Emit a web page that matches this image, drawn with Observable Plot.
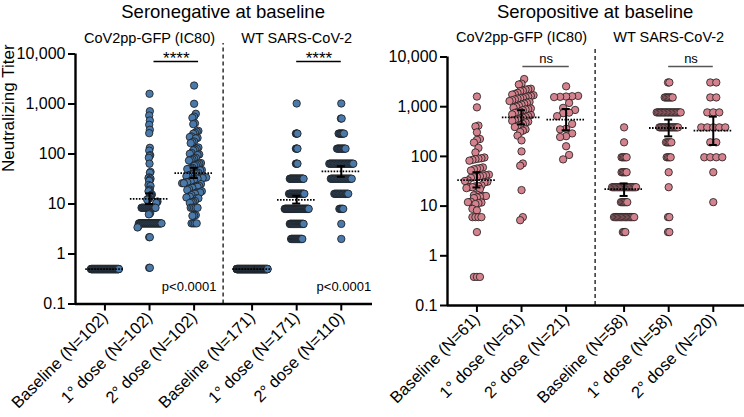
<!DOCTYPE html>
<html>
<head>
<meta charset="utf-8">
<script src="https://cdn.jsdelivr.net/npm/d3@7"></script>
<script src="https://cdn.jsdelivr.net/npm/@observablehq/plot@0.6"></script>
<style>
  html, body { margin: 0; padding: 0; background: #fff; }
  #wrap { display: flex; width: 744px; height: 417px; }
  #wrap svg { display: block; }
</style>
</head>
<body>
<div id="wrap"></div>
<script>
// ---------------- DATA ----------------
const groupPos = [0, 1, 2, 3.3, 4.3, 5.3];
const yTicks = [0.1, 1, 10, 100, 1000, 10000];

const negTitle = "Seronegative at baseline";
const posTitle = "Seropositive at baseline";
const assayTitles = ["CoV2pp-GFP (IC80)", "WT SARS-CoV-2"];

const negLabels = ["Baseline (N=102)", "1° dose (N=102)", "2° dose (N=102)",
                   "Baseline (N=171)", "1° dose (N=171)", "2° dose (N=110)"];
const posLabels = ["Baseline (N=61)", "1° dose (N=61)", "2° dose (N=21)",
                   "Baseline (N=58)", "1° dose (N=58)", "2° dose (N=20)"];

// Seronegative, CoV2pp-GFP (IC80) – [value, count]
const negCovBase = [[0.5, 102]];
const negCov1 = [[1600,1],[718,1],[589,1],[468,1],[384,1],[305,1],[261,1],[133,1],[117,1],[95,1],
  [91,1],[84,1],[64,1],[44,1],[42,1],[34,1],[33,1],[32,1],[30,1],[29,1],
  [24,1],[23,1],[19.5,1],[18.6,1],[18,1],[15.5,1],[15,1],[14.5,1],[14,1],[13,1],
  [12.7,1],[12.5,1],[12.2,1],[11.2,1],[10.9,1],[10.5,1],
  [8.4,22],[6.6,1],[6.4,1],[6.2,1],[4.1,35],[3.5,1],[3.4,1],[2.17,2],[0.53,2]];
const negCov2 = [[2340,1],[1010,1],[637,1],[560,1],[530,1],[410,1],[395,1],[290,1],[280,1],[265,1],
  [255,1],[225,1],[218,1],[210,1],[205,1],[178,1],[172,1],[165,1],[135,1],[128,1],
  [122,1],[118,1],[105,1],[101,1],[98,1],[95,1],[84,1],[81,1],[78,1],[76,1],
  [74,1],[66,1],[64,1],[62,1],[60,1],[58,1],[53,1],[52,1],[51,1],[50,1],
  [48,1],[47,1],[42,1],[41,1],[40,2],[39,1],[38,1],[37,1],[36,1],
  [34,2],[33,3],[32,2],[31,2],[28,2],
  [27,2],[26,2],[25,1],[23,1],[22,3],
  [21,2],[20,1],[19,1],[18,1],[17,3],[16,2],
  [15,1],[14,2],[13.5,1],[13,2],[11.5,1],[11,1],[10.8,1],[10.5,1],
  [8.4,5],[6,1],[5.9,1],[5.8,1],[4.1,4]];
// Seronegative, WT SARS-CoV-2
const negWTBase = [[0.5, 171]];
const negWT1 = [[1024,1],[256,4],[128,4],[64,4],[32,28],[16,31],[8,48],[4,28],[2,23]];
const negWT2 = [[1024,1],[512,2],[256,8],[128,12],[64,32],[32,28],[16,19],[8,6],[4,1],[2,1]];

// Seropositive, CoV2pp-GFP (IC80)
const posCovBase = [[1600,1],[970,1],[417,1],[400,1],[305,1],[224,1],[215,1],[190,1],[148,1],[120,1],
  [95,1],[92,1],[90,1],[88,1],[85,1],[82,1],[60,1],[58,1],[57,1],[55,1],
  [52,1],[43,1],[42,1],[41,1],[40,1],[39,1],[38,1],[37,1],[33,1],[32,1],
  [31,1],[30,1],[26,1],[25,2],[24,2],[23,1],[22,1],
  [17,1],[16.5,1],[16,2],[15.5,1],[15,1],[14.5,1],[12.2,1],[12,1],[11.8,1],
  [11.5,1],[11,1],[8.8,1],[8.2,1],[6,4],[3,1],[0.376,3]];
const posCov1 = [[3600,1],[2900,1],[2800,1],[2300,1],[2250,1],[2200,1],[2100,1],[2050,1],[1900,1],[1800,1],
  [1750,1],[1700,1],[1650,1],[1600,1],[1550,1],[1500,1],[1480,1],[1450,1],[1400,1],[1350,1],
  [1300,1],[1250,1],[1200,1],[1150,1],[1100,1],[1050,1],[1000,1],[950,1],[920,1],[900,1],
  [880,1],[850,1],[800,1],[780,1],[750,1],[700,1],[680,1],[650,1],[620,1],[600,1],
  [580,1],[560,1],[540,1],[520,1],[500,1],[480,1],[450,1],[430,1],[410,1],[390,1],
  [350,1],[330,1],[310,1],[262,1],[210,1],[126,1],[72,1],[65,1],[21,1],[6,1],[5.2,1]];
const posCov2 = [[2570,1],[1650,1],[1620,1],[1600,1],[1580,1],[1560,1],[1190,1],[946,1],[860,1],[760,1],
  [740,1],[645,1],[450,1],[360,1],[350,1],[290,1],[255,1],[245,1],[160,1],[107,1],[87,1]];
// Seropositive, WT SARS-CoV-2
const posWTBase = [[384,1],[192,1],[96,5],[48,5],[24,20],[12,6],[6,17],[3,3]];
const posWT1 = [[3072,2],[1536,7],[768,19],[384,15],[192,5],[96,4],[48,1],[24,1],[6,2],[3,2]];
const posWT2 = [[3072,2],[1536,2],[768,3],[384,5],[192,2],[96,4],[48,1],[12,1]];

// Geometric mean titers and 95% CI
const negGMT = [0.5, 12.7, 41.3, 0.5, 12.1, 45];
const negLo  = [null, 10, 33, null, 10.2, 35];
const negHi  = [null, 16.3, 53, null, 14.6, 57];
const posGMT = [33.4, 611, 550, 22, 373, 330];
const posLo  = [23.7, 440, 335, 16, 253, 170];
const posHi  = [48, 850, 900, 28.6, 550, 631];

// Significance comparisons
const negSigA = [1.1, 4.3], negSigB = [2.1, 5.3], negSigText = ["****", "****"], negSigY = 7080;
const posSigA = [1.03, 4.3], posSigB = [2.07, 5.3], posSigText = ["ns", "ns"], posSigY = 6450;
const pValueText = ["p<0.0001", "p<0.0001"];

// ---------------- LAYOUT ----------------
const FONT = "'Liberation Sans', Arial, Helvetica, sans-serif";
const XDOM = [-0.66, 6.0];
const UNIT = (372 - 75) / (XDOM[1] - XDOM[0]); // px per x unit

function expand(pairs) { return pairs.flatMap(([v, n]) => Array.from({length: n}, () => v)); }

// Prism-like scatter: bin points into rows, uniform spacing per group
function layoutGroup(values, pos, W, dmax) {
  const pts = values.map(v => ({v, py: -50 * Math.log10(v)})).sort((a, b) => a.py - b.py);
  const rows = []; let cur = null;
  for (const p of pts) {
    if (!cur || p.py - cur.start > 6.5) { cur = {start: p.py, items: []}; rows.push(cur); }
    cur.items.push(p);
  }
  const nmax = d3.max(rows, r => r.items.length);
  const s = nmax > 1 ? Math.min(dmax, W / (nmax - 1)) : 0;
  for (const r of rows) {
    const n = r.items.length;
    r.items.sort((a, b) => a.v - b.v);
    r.items.forEach((p, i) => { p.x = pos + ((i - (n - 1) / 2) * s) / UNIT; });
  }
  return pts;
}

function makePanel(cfg) {
  const points = cfg.groups.flatMap((g, i) => layoutGroup(expand(g), groupPos[i], cfg.spread[i], 6));
  const stats = groupPos.map((p, i) => ({pos: p, gmt: cfg.gmt[i], lo: cfg.lo[i], hi: cfg.hi[i]}));
  const ci = stats.filter(d => d.lo != null);
  const sig = cfg.sigA.map((a, i) => ({a, b: cfg.sigB[i], t: cfg.sigText[i]}));
  const marks = [
    Plot.ruleX([2.65], {y1: 0.1, y2: cfg.divTop, stroke: "#111", strokeWidth: 1.3, strokeDasharray: "4,3"}),
    Plot.dot(points, {x: "x", y: "v", r: 3.7, fill: cfg.color, stroke: "#1b1b1b", strokeWidth: 0.8}),
    Plot.ruleY(stats, {x1: d => d.pos - 0.43, x2: d => d.pos + 0.43, y: "gmt", stroke: "#000", strokeWidth: 1.8, strokeDasharray: "1.6,1.4"}),
    Plot.ruleX(ci, {x: "pos", y1: "lo", y2: "hi", stroke: "#000", strokeWidth: 2}),
    Plot.ruleY(ci, {x1: d => d.pos - 0.09, x2: d => d.pos + 0.09, y: "lo", stroke: "#000", strokeWidth: 2}),
    Plot.ruleY(ci, {x1: d => d.pos - 0.09, x2: d => d.pos + 0.09, y: "hi", stroke: "#000", strokeWidth: 2}),
    Plot.ruleY(sig, {x1: "a", x2: "b", y: () => cfg.sigY, stroke: cfg.sigColor, strokeWidth: 1.5}),
    Plot.text(sig, {x: d => (d.a + d.b) / 2, y: () => cfg.sigY, text: "t", fontSize: cfg.sigFont,
      lineAnchor: "bottom", dy: cfg.sigDy, fill: "#000", letterSpacing: cfg.sigSpacing}),
    Plot.axisY({ticks: yTicks, tickFormat: d3.format(","), tickSize: 7, tickPadding: 3, fontSize: 16, strokeWidth: 2}),
    Plot.axisX({ticks: groupPos, tickFormat: d => cfg.labels[groupPos.indexOf(d)], tickRotate: -45,
      tickSize: 7, tickPadding: 4, fontSize: 16.5, strokeWidth: 2}),
    Plot.ruleX([XDOM[0]], {stroke: "#000", strokeWidth: 2.4}),
    Plot.ruleY([0.1], {stroke: "#000", strokeWidth: 2.4}),
    Plot.text([cfg.title], {x: 2.65, frameAnchor: "top", lineAnchor: "bottom", dy: cfg.titleDy, fontSize: 18.5, fill: "#000"}),
    Plot.text(assayTitles, {x: (d, i) => [1, 4.3][i], frameAnchor: "top", lineAnchor: "bottom", dy: cfg.subDy, fontSize: 14.5, fill: "#000"})
  ];
  if (cfg.pText) {
    marks.push(Plot.text(cfg.pText, {x: (d, i) => [2.5, 5.97][i], y: () => 0.186, textAnchor: "end", lineAnchor: "bottom", fontSize: 13, fill: "#000"}));
  }
  if (cfg.yLabel) {
    marks.push(Plot.text([cfg.yLabel], {frameAnchor: "left", rotate: -90, dx: -67, dy: -7, fontSize: 17, fill: "#000"}));
  }
  return Plot.plot({
    width: 372, height: 417,
    marginLeft: 75, marginRight: 0, marginTop: cfg.mt, marginBottom: 417 - cfg.bottom,
    x: {type: "linear", domain: XDOM, axis: null},
    y: {type: "log", domain: [0.1, 10000], axis: null},
    style: {fontFamily: FONT, color: "#000", background: "#fff", overflow: "visible"},
    marks
  });
}

const left = makePanel({
  groups: [negCovBase, negCov1, negCov2, negWTBase, negWT1, negWT2],
  spread: [28, 24, 24, 31, 24, 24],
  labels: negLabels, gmt: negGMT, lo: negLo, hi: negHi,
  sigA: negSigA, sigB: negSigB, sigText: negSigText, sigY: negSigY, sigColor: "#000",
  sigFont: 17, sigDy: 3, sigSpacing: 1,
  color: "#4a7aab", title: negTitle, mt: 53.5, bottom: 303.5, divTop: 16200,
  titleDy: -36.5, subDy: -11, pText: pValueText, yLabel: "Neutralizing Titer"
});
const right = makePanel({
  groups: [posCovBase, posCov1, posCov2, posWTBase, posWT1, posWT2],
  spread: [24, 24, 24, 24, 24, 24],
  labels: posLabels, gmt: posGMT, lo: posLo, hi: posHi,
  sigA: posSigA, sigB: posSigB, sigText: posSigText, sigY: posSigY, sigColor: "#555",
  sigFont: 13, sigDy: -3.3, sigSpacing: 0,
  color: "#d4838e", title: posTitle, mt: 56.5, bottom: 305, divTop: 15100,
  titleDy: -39.5, subDy: -15, pText: null, yLabel: null
});
document.getElementById("wrap").append(left, right);
</script>
</body>
</html>
